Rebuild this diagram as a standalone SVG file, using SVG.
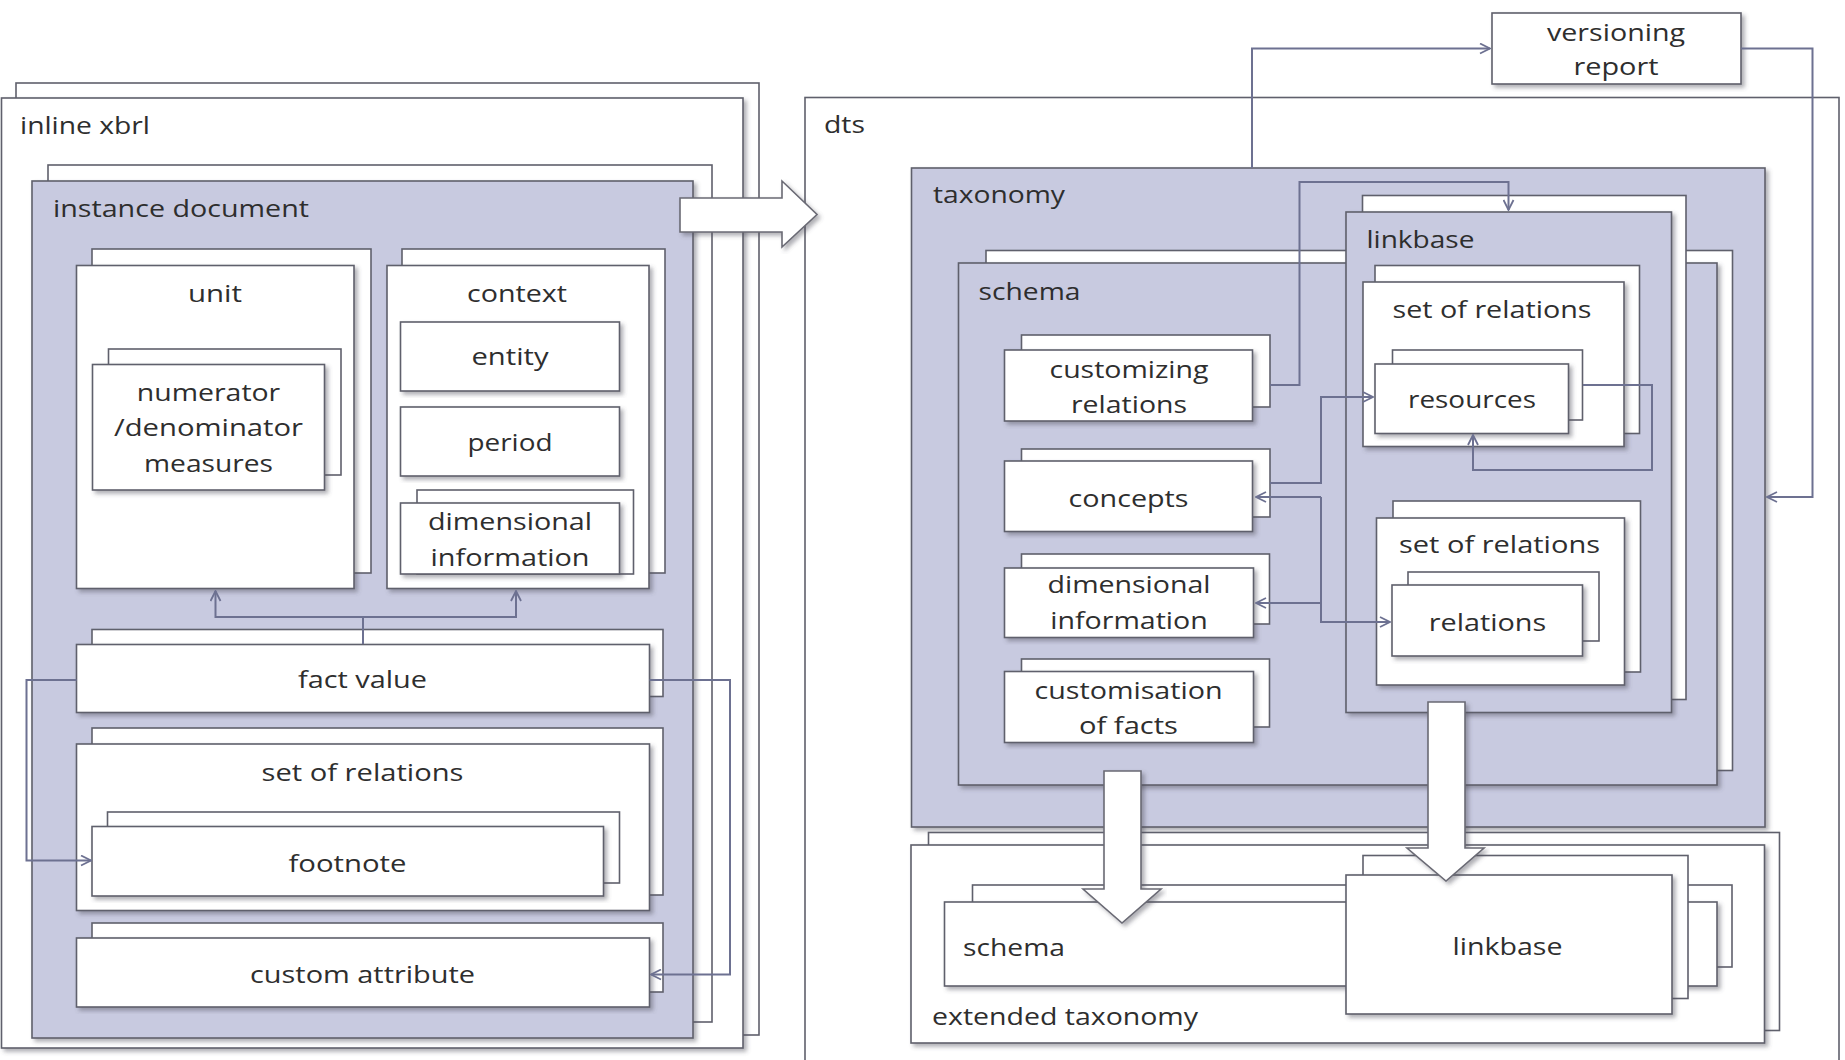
<svg xmlns="http://www.w3.org/2000/svg" width="1845" height="1060" viewBox="0 0 1845 1060">
<defs>
<filter id="sh" x="-5%" y="-5%" width="112%" height="115%">
<feDropShadow dx="3" dy="3" stdDeviation="2.2" flood-color="#50505a" flood-opacity="0.45"/>
</filter>
<marker id="ar" viewBox="0 0 12 12" refX="11" refY="6" markerWidth="12" markerHeight="12" markerUnits="userSpaceOnUse" orient="auto">
<path d="M1,1 L11,6 L1,11" fill="none" stroke="#6d7191" stroke-width="1.8"/>
</marker>
<style>
.w{fill:#ffffff;stroke:#5f606c;stroke-width:1.6}
.l{fill:#c8cae0;stroke:#5f606c;stroke-width:1.6}
.f{filter:url(#sh)}
.t{font-family:"Open Sans","Liberation Sans",sans-serif;font-size:24px;fill:#2e2e2e}
.c{text-anchor:middle}
.cn{fill:none;stroke:#6d7191;stroke-width:2}
.ba{fill:#ffffff;stroke:#6a6a74;stroke-width:1.6;filter:url(#sh)}
</style>
</defs>
<rect width="1845" height="1060" fill="#ffffff"/>

<!-- LEFT -->
<g id="inline-xbrl">
<rect class="w" x="16" y="83" width="743" height="952"/>
<rect class="w f" x="1.5" y="98" width="741.5" height="950"/>
<text class="t" x="20" y="134" textLength="130" lengthAdjust="spacingAndGlyphs">inline xbrl</text>
</g>
<g id="instance-document">
<rect class="w" x="48" y="165" width="664" height="857"/>
<rect class="l f" x="32" y="181" width="661" height="857"/>
<text class="t" x="53" y="217" textLength="256" lengthAdjust="spacingAndGlyphs">instance document</text>
</g>
<g id="unit">
<rect class="w" x="92" y="249" width="279" height="324"/>
<rect class="w f" x="76.5" y="265.5" width="277.5" height="323"/>
<text class="t c" x="215" y="301.5" textLength="54" lengthAdjust="spacingAndGlyphs">unit</text>
</g>
<g id="measures">
<rect class="w" x="108.5" y="349" width="232.5" height="126"/>
<rect class="w f" x="92.5" y="364.5" width="232" height="125.5"/>
<text class="t c" x="208.5" y="400.5" textLength="143.5" lengthAdjust="spacingAndGlyphs">numerator</text>
<text class="t c" x="208.5" y="436" textLength="189" lengthAdjust="spacingAndGlyphs">/denominator</text>
<text class="t c" x="208.5" y="471.5" textLength="129" lengthAdjust="spacingAndGlyphs">measures</text>
</g>
<g id="context">
<rect class="w" x="402" y="249" width="263" height="324"/>
<rect class="w f" x="387" y="265.5" width="262" height="323"/>
<text class="t c" x="517" y="301.5" textLength="100" lengthAdjust="spacingAndGlyphs">context</text>
</g>
<g id="entity">
<rect class="w f" x="400.5" y="322" width="219" height="69"/>
<text class="t c" x="510" y="365" textLength="77" lengthAdjust="spacingAndGlyphs">entity</text>
</g>
<g id="period">
<rect class="w f" x="400.5" y="407" width="219" height="69"/>
<text class="t c" x="510" y="450.5" textLength="85" lengthAdjust="spacingAndGlyphs">period</text>
</g>
<g id="context-dimensional-information">
<rect class="w" x="417" y="490" width="216.5" height="84"/>
<rect class="w f" x="400.5" y="503" width="219" height="71"/>
<text class="t c" x="510" y="530" textLength="164" lengthAdjust="spacingAndGlyphs">dimensional</text>
<text class="t c" x="510" y="565.5" textLength="159" lengthAdjust="spacingAndGlyphs">information</text>
</g>
<g id="fact-value">
<rect class="w" x="92" y="629.5" width="571" height="67"/>
<rect class="w f" x="76.5" y="644.5" width="573" height="68"/>
<text class="t c" x="362.5" y="688" textLength="129" lengthAdjust="spacingAndGlyphs">fact value</text>
</g>
<g id="instance-set-of-relations">
<rect class="w" x="92" y="728" width="571" height="167"/>
<rect class="w f" x="76.5" y="744" width="573" height="166.5"/>
<text class="t c" x="362.5" y="781" textLength="202" lengthAdjust="spacingAndGlyphs">set of relations</text>
</g>
<g id="footnote">
<rect class="w" x="107.5" y="812" width="512" height="71"/>
<rect class="w f" x="92" y="826.5" width="511.5" height="69.5"/>
<text class="t c" x="347.5" y="871.5" textLength="118" lengthAdjust="spacingAndGlyphs">footnote</text>
</g>
<g id="custom-attribute">
<rect class="w" x="92" y="923" width="571" height="69"/>
<rect class="w f" x="76.5" y="938" width="573" height="69"/>
<text class="t c" x="362.5" y="983" textLength="225" lengthAdjust="spacingAndGlyphs">custom attribute</text>
</g>

<!-- RIGHT -->
<g id="dts">
<rect class="w" x="805" y="97.5" width="1034" height="975"/>
<text class="t" x="824" y="133" textLength="41" lengthAdjust="spacingAndGlyphs">dts</text>
</g>
<g id="versioning-report">
<rect class="w f" x="1492" y="13" width="249" height="71"/>
<text class="t c" x="1616" y="40.5" textLength="138" lengthAdjust="spacingAndGlyphs">versioning</text>
<text class="t c" x="1616" y="75" textLength="85" lengthAdjust="spacingAndGlyphs">report</text>
</g>
<g id="taxonomy">
<rect class="l f" x="911.5" y="168" width="853.5" height="659"/>
<text class="t" x="933" y="203" textLength="132" lengthAdjust="spacingAndGlyphs">taxonomy</text>
</g>
<g id="schema">
<rect class="w" x="986" y="250.5" width="746.5" height="520"/>
<rect class="l f" x="958.5" y="263" width="758.5" height="522"/>
<text class="t" x="978.5" y="300" textLength="102" lengthAdjust="spacingAndGlyphs">schema</text>
</g>
<g id="customizing-relations">
<rect class="w" x="1021.5" y="335" width="248.5" height="72"/>
<rect class="w f" x="1004.5" y="350" width="248" height="71"/>
<text class="t c" x="1129" y="378" textLength="159" lengthAdjust="spacingAndGlyphs">customizing</text>
<text class="t c" x="1129" y="412.5" textLength="116" lengthAdjust="spacingAndGlyphs">relations</text>
</g>
<g id="concepts">
<rect class="w" x="1021.5" y="449" width="248.5" height="68"/>
<rect class="w f" x="1004.5" y="461" width="248" height="70.5"/>
<text class="t c" x="1128.5" y="507" textLength="120" lengthAdjust="spacingAndGlyphs">concepts</text>
</g>
<g id="schema-dimensional-information">
<rect class="w" x="1021.5" y="554" width="248" height="70"/>
<rect class="w f" x="1004.5" y="568" width="249" height="69.5"/>
<text class="t c" x="1129" y="593" textLength="163" lengthAdjust="spacingAndGlyphs">dimensional</text>
<text class="t c" x="1129" y="629" textLength="157.5" lengthAdjust="spacingAndGlyphs">information</text>
</g>
<g id="customisation-of-facts">
<rect class="w" x="1021.5" y="659" width="248" height="68"/>
<rect class="w f" x="1004.5" y="671.5" width="249" height="71"/>
<text class="t c" x="1128.5" y="699" textLength="188" lengthAdjust="spacingAndGlyphs">customisation</text>
<text class="t c" x="1128.5" y="734" textLength="99" lengthAdjust="spacingAndGlyphs">of facts</text>
</g>
<g id="linkbase">
<rect class="w" x="1362.5" y="195.5" width="323.5" height="504"/>
<rect class="l f" x="1346" y="212" width="325.5" height="500.5"/>
<text class="t" x="1366.5" y="248" textLength="108" lengthAdjust="spacingAndGlyphs">linkbase</text>
</g>
<g id="linkbase-set-of-relations-1">
<rect class="w" x="1375" y="265.5" width="264.5" height="168"/>
<rect class="w f" x="1363" y="282" width="261" height="164.5"/>
<text class="t c" x="1492" y="318" textLength="199" lengthAdjust="spacingAndGlyphs">set of relations</text>
</g>
<g id="resources">
<rect class="w" x="1392.5" y="350" width="190" height="70"/>
<rect class="w f" x="1375" y="364" width="193.5" height="69.5"/>
<text class="t c" x="1472" y="408" textLength="128" lengthAdjust="spacingAndGlyphs">resources</text>
</g>
<g id="linkbase-set-of-relations-2">
<rect class="w" x="1393" y="501" width="247.5" height="171"/>
<rect class="w f" x="1376.5" y="518" width="248" height="167"/>
<text class="t c" x="1499.5" y="553" textLength="201" lengthAdjust="spacingAndGlyphs">set of relations</text>
</g>
<g id="relations">
<rect class="w" x="1408" y="572" width="191" height="69"/>
<rect class="w f" x="1392" y="585" width="190.5" height="71"/>
<text class="t c" x="1487.5" y="631" textLength="117.5" lengthAdjust="spacingAndGlyphs">relations</text>
</g>
<g id="extended-taxonomy">
<rect class="w" x="928.5" y="832.5" width="851" height="198"/>
<rect class="w f" x="911" y="845" width="853.5" height="198"/>
<text class="t" x="932" y="1025" textLength="266" lengthAdjust="spacingAndGlyphs">extended taxonomy</text>
</g>
<g id="extended-schema">
<rect class="w" x="972.5" y="885" width="759.5" height="82"/>
<rect class="w f" x="944.5" y="902" width="772.5" height="84"/>
<text class="t" x="963" y="956" textLength="102" lengthAdjust="spacingAndGlyphs">schema</text>
</g>
<g id="extended-linkbase">
<rect class="w" x="1363" y="855.5" width="325" height="143"/>
<rect class="w f" x="1346" y="875" width="326" height="139"/>
<text class="t c" x="1507.5" y="955" textLength="110" lengthAdjust="spacingAndGlyphs">linkbase</text>
</g>

<g id="connectors">
<path class="cn" d="M363,644 V617 H215.5 V591" marker-end="url(#ar)"/>
<path class="cn" d="M363,617 H516 V591" marker-end="url(#ar)"/>
<path class="cn" d="M76.5,680 H26.5 V860.5 H91" marker-end="url(#ar)"/>
<path class="cn" d="M649.5,680 H730 V974.5 H651" marker-end="url(#ar)"/>
<path class="cn" d="M1252,168 V48.5 H1490" marker-end="url(#ar)"/>
<path class="cn" d="M1741,48.5 H1812.5 V497 H1767" marker-end="url(#ar)"/>
<path class="cn" d="M1270,385 H1299.5 V182 H1508.5 V210" marker-end="url(#ar)"/>
<path class="cn" d="M1583,385 H1652 V470 H1473 V435" marker-end="url(#ar)"/>
<path class="cn" d="M1270,483 H1321 V397 H1373" marker-end="url(#ar)"/>
<path class="cn" d="M1321,497 H1256" marker-end="url(#ar)"/>
<path class="cn" d="M1321,497 V622 H1390" marker-end="url(#ar)"/>
<path class="cn" d="M1321,603 H1256" marker-end="url(#ar)"/>
<polygon class="ba" points="680,198 782,198 782,181 817,214.5 782,247 782,232 680,232"/>
<polygon class="ba" points="1104,771 1141,771 1141,889 1161,889 1122,923 1083,889 1104,889"/>
<polygon class="ba" points="1428,702 1465,702 1465,848 1484,848 1446,881 1407,848 1428,848"/>
</g>
</svg>
